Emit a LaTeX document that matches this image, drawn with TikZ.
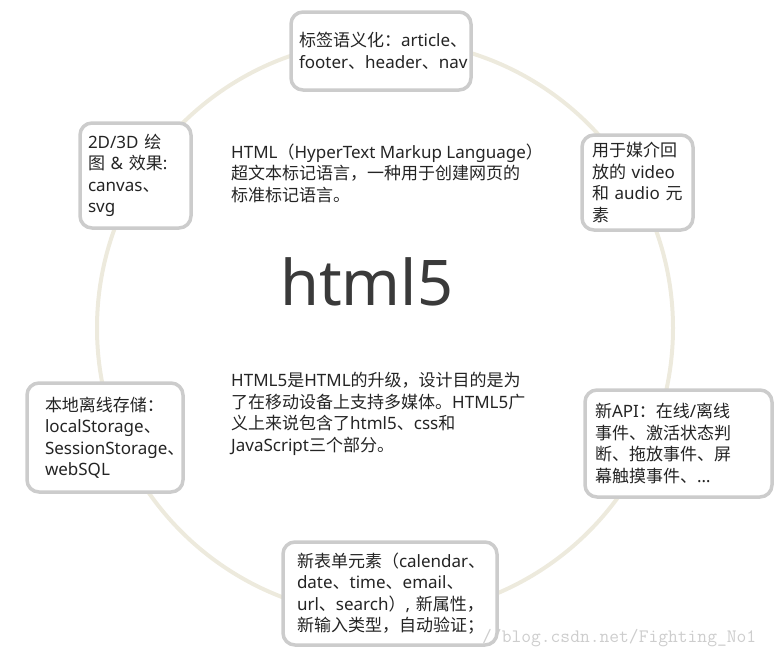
\documentclass[tikz,border=0pt]{standalone}
\usepackage{fontspec}
\setmainfont{Noto Sans}
\newfontfamily\zhfont{Noto Sans CJK SC}
\usetikzlibrary{positioning}

% switch to the CJK font for Chinese characters
\XeTeXinterchartokenstate=1
\newXeTeXintercharclass\zhclass
\newcount\zhcount
\def\zhrange#1#2{\zhcount=#1\relax
  \loop\XeTeXcharclass\zhcount=\zhclass
  \ifnum\zhcount<#2\advance\zhcount by 1\repeat}
\zhrange{"3000}{"303F}
\zhrange{"4E00}{"9FFF}
\zhrange{"FF00}{"FFEF}
\XeTeXinterchartoks 0 \zhclass = {\zhfont}
\XeTeXinterchartoks 4095 \zhclass = {\zhfont}
\XeTeXinterchartoks \zhclass 0 = {\rmfamily}
\XeTeXinterchartoks \zhclass 4095 = {\rmfamily}

\definecolor{ringbeige}{RGB}{237, 234, 221}
\definecolor{cardgray}{RGB}{204, 204, 204}
\definecolor{inkgray}{RGB}{36, 36, 36}
\definecolor{titlegray}{RGB}{58, 58, 58}
\definecolor{marklight}{RGB}{205, 205, 205}

\begin{document}
\begin{tikzpicture}[x=1pt, y=-1pt,
    card/.style={draw=cardgray, line width=3.5pt, rounded corners=12pt, fill=white,
                 align=left, inner ysep=0pt, text=inkgray,
                 font=\fontsize{17}{21.5}\selectfont},
    blurb/.style={align=left, anchor=west, inner sep=0pt, text=inkgray,
                  font=\fontsize{17}{21.5}\selectfont},
    ring/.style={ringbeige, line width=4pt}
  ]
    \useasboundingbox (0,0) rectangle (774,656);

    \draw[ring] (385,328) circle[radius=288pt];

    \node[blurb] (intro) at (231,173) {HTML（HyperText Markup Language）\\超文本标记语言，一种用于创建网页的\\标准标记语言。};
    \node[anchor=base west, inner sep=0pt, text=titlegray,
          font=\fontsize{63}{68}\selectfont] (title) at (280,305) {html5};
    \node[blurb] (about) at (231,414) {HTML5是HTML的升级，设计目的是为\\了在移动设备上支持多媒体。HTML5广\\义上来说包含了html5、css和\\JavaScript三个部分。};

    \node[card, text width=164pt, inner xsep=8pt, minimum height=78pt] (tags) at (381,51)
        {标签语义化：article、\\footer、header、nav};
    \node[card, text width=95pt, inner xsep=8pt, minimum height=105pt] (canvas) at (135.5,175.5)
        {2D/3D~绘\\图~\&~效果:\\canvas、\\svg};
    \node[card, text width=91pt, inner xsep=10pt, minimum height=95pt] (media) at (637.5,182.5)
        {用于媒介回\\放的~video\\和~audio~元\\素};
    \node[card, text width=167pt, inner xsep=10pt, minimum height=107pt] (api) at (678.5,443.5)
        {新API：在线/离线\\事件、激活状态判\\断、拖放事件、屏\\幕触摸事件、…};
    \node[card, text width=120pt, inner xsep=18pt, minimum height=109pt] (storage) at (105,437.5)
        {本地离线存储：\\localStorage、\\SessionStorage、\\webSQL};
    \node[card, text width=186pt, inner xsep=14pt, minimum height=103pt] (forms) at (390,593.5)
        {新表单元素（calendar、\\date、time、email、\\url、search）,~新属性，\\新输入类型，自动验证；};

    \node[anchor=base west, inner sep=0pt, text=marklight,
          font=\ttfamily\fontsize{19}{21}\selectfont] (mark) at (482,642) {//blog.csdn.net/Fighting\_No1};
\end{tikzpicture}
\end{document}
